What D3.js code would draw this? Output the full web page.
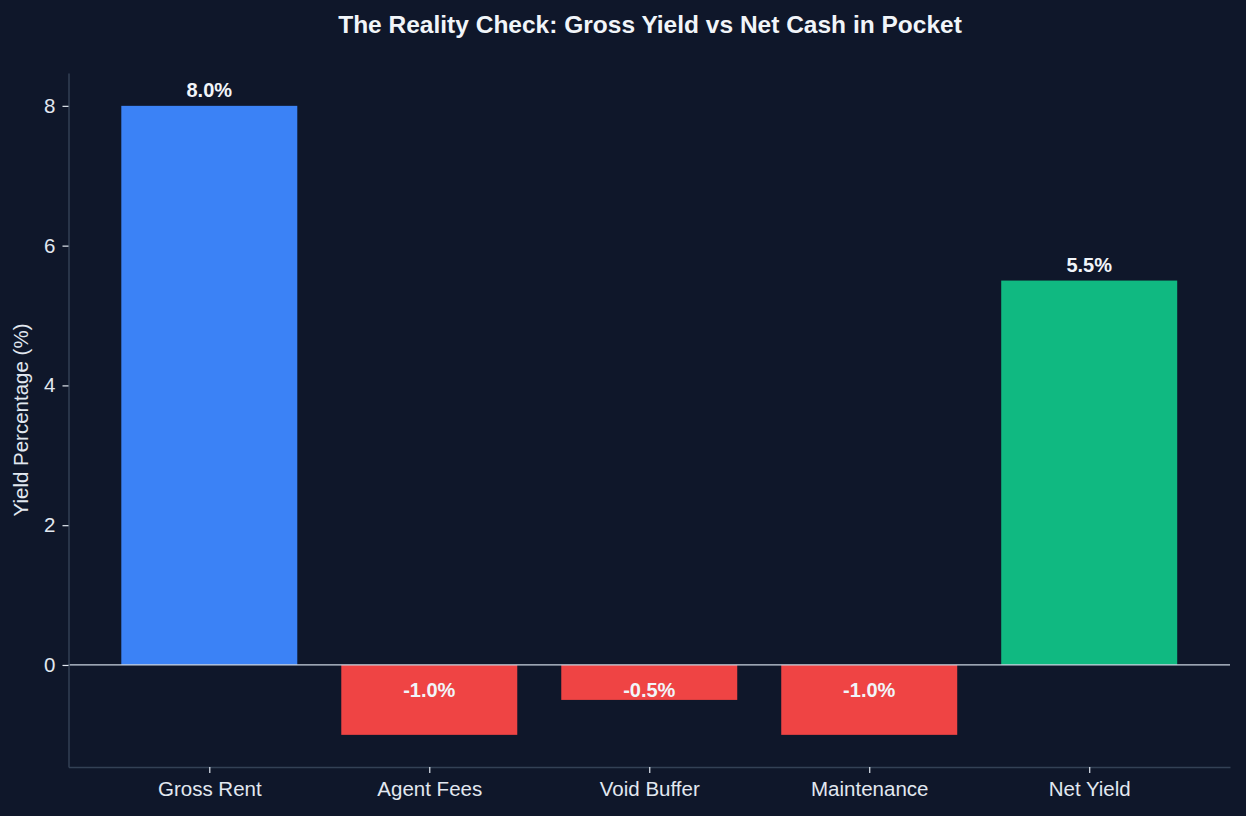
<!DOCTYPE html>
<html>
<head>
<meta charset="utf-8">
<script src="https://cdn.jsdelivr.net/npm/d3@7"></script>
<style>
  html, body { margin: 0; padding: 0; background: #0f172a; }
  svg { display: block; font-family: "Liberation Sans", Arial, sans-serif; }
</style>
</head>
<body>
<div id="chart"></div>
<script>
const categories = ["Gross Rent", "Agent Fees", "Void Buffer", "Maintenance", "Net Yield"];
const values = [8.0, -1.0, -0.5, -1.0, 5.5];
const barColors = ["#3b82f6", "#ef4444", "#ef4444", "#ef4444", "#10b981"];
const yTicks = [0, 2, 4, 6, 8];

const width = 1246;
const height = 816;
const margin = { left: 68.5, right: 16, top: 73, bottom: 49 };
const font = "Liberation Sans, Arial, sans-serif";

const svg = d3.select("#chart")
  .append("svg")
  .attr("width", width)
  .attr("height", height);

svg.append("rect").attr("width", width).attr("height", height).attr("fill", "#0f172a");

// positions 0..4, bar width 0.8, 5% padding each side
const xScale = d3.scaleLinear()
  .domain([-0.64, categories.length - 1 + 0.64])
  .range([margin.left, width - margin.right]);
const barW = 0.8;

const yScale = d3.scaleLinear()
  .domain([-1.46, 8.47])
  .range([height - margin.bottom, margin.top]);

// title
svg.append("text")
  .attr("x", 650)
  .attr("y", 33)
  .attr("text-anchor", "middle")
  .attr("fill", "#f1f5f9")
  .attr("font-size", 24.5)
  .attr("font-weight", "bold")
  .text("The Reality Check: Gross Yield vs Net Cash in Pocket");

// bars
svg.append("g")
  .selectAll("rect")
  .data(values)
  .enter()
  .append("rect")
  .attr("x", (d, i) => xScale(i - barW / 2))
  .attr("width", (d, i) => xScale(i + barW / 2) - xScale(i - barW / 2))
  .attr("y", d => yScale(Math.max(0, d)))
  .attr("height", d => Math.abs(yScale(d) - yScale(0)))
  .attr("fill", (d, i) => barColors[i]);

// zero line
svg.append("line")
  .attr("x1", margin.left)
  .attr("x2", width - margin.right)
  .attr("y1", yScale(0))
  .attr("y2", yScale(0))
  .attr("stroke", "#cbd5e1")
  .attr("stroke-width", 1.3);

// value labels
svg.append("g")
  .selectAll("text")
  .data(values)
  .enter()
  .append("text")
  .attr("x", (d, i) => xScale(i))
  .attr("y", d => d >= 0 ? yScale(d) - 9 : yScale(0) + 32)
  .attr("text-anchor", "middle")
  .attr("fill", "#f1f5f9")
  .attr("font-size", 20)
  .attr("font-weight", "bold")
  .text(d => d.toFixed(1) + "%");

// y axis
const yAxis = svg.append("g")
  .attr("transform", `translate(${margin.left}, 0)`)
  .call(d3.axisLeft(yScale).tickValues(yTicks).tickFormat(d3.format("d")).tickSizeInner(6).tickSizeOuter(0).tickPadding(7));
yAxis.select(".domain").attr("stroke", "#334155").attr("stroke-width", 1.5);
yAxis.selectAll(".tick line").attr("stroke", "#e2e8f0").attr("stroke-width", 1.2);
yAxis.selectAll(".tick text").attr("fill", "#e2e8f0").attr("font-size", 20.5).attr("font-family", font);

// x axis
const xAxis = svg.append("g")
  .attr("transform", `translate(0, ${height - margin.bottom})`)
  .call(d3.axisBottom(xScale).tickValues(d3.range(categories.length)).tickFormat(i => categories[i]).tickSizeInner(6).tickSizeOuter(0).tickPadding(8));
xAxis.select(".domain").attr("stroke", "#334155").attr("stroke-width", 1.5);
xAxis.selectAll(".tick line").attr("stroke", "#e2e8f0").attr("stroke-width", 1.2);
xAxis.selectAll(".tick text").attr("fill", "#e2e8f0").attr("font-size", 20.5).attr("font-family", font);

// y label
svg.append("text")
  .attr("transform", `translate(28, ${(margin.top + height - margin.bottom) / 2}) rotate(-90)`)
  .attr("text-anchor", "middle")
  .attr("fill", "#e2e8f0")
  .attr("font-size", 20.5)
  .text("Yield Percentage (%)");
</script>
</body>
</html>
